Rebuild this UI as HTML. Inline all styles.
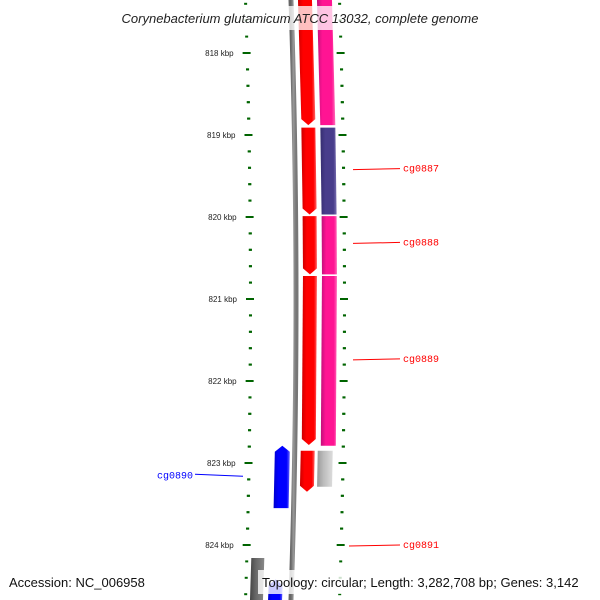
<!DOCTYPE html>
<html><head><meta charset="utf-8"><style>
body{margin:0;background:#fff}
svg{display:block;font-family:"Liberation Sans","DejaVu Sans",sans-serif}
</style></head><body>
<svg id="c" width="600" height="600" viewBox="0 0 600 600">
<defs>
<linearGradient id="gRed" x1="0" x2="1"><stop offset="0" stop-color="#c00"/><stop offset="0.3" stop-color="#f00"/><stop offset="0.8" stop-color="#f00"/><stop offset="1" stop-color="#f66"/></linearGradient>
<linearGradient id="gPink" x1="0" x2="1"><stop offset="0" stop-color="#c0107a"/><stop offset="0.3" stop-color="#ff1493"/><stop offset="0.8" stop-color="#ff1493"/><stop offset="1" stop-color="#ff6ab8"/></linearGradient>
<linearGradient id="gPurp" x1="0" x2="1"><stop offset="0" stop-color="#352d70"/><stop offset="0.3" stop-color="#483d8b"/><stop offset="0.8" stop-color="#483d8b"/><stop offset="1" stop-color="#7a70b0"/></linearGradient>
<linearGradient id="gBlue" x1="0" x2="1"><stop offset="0" stop-color="#00c"/><stop offset="0.3" stop-color="#00f"/><stop offset="0.8" stop-color="#00f"/><stop offset="1" stop-color="#66f"/></linearGradient>
<linearGradient id="gGray" x1="0" x2="1"><stop offset="0" stop-color="#999"/><stop offset="0.4" stop-color="#bbb"/><stop offset="1" stop-color="#ddd"/></linearGradient>
<linearGradient id="gDark" x1="0" x2="1"><stop offset="0" stop-color="#444"/><stop offset="0.4" stop-color="#666"/><stop offset="1" stop-color="#888"/></linearGradient>
<linearGradient id="gBack" x1="0" x2="1"><stop offset="0" stop-color="#666"/><stop offset="0.5" stop-color="#999"/><stop offset="1" stop-color="#777"/></linearGradient>
</defs>
<g id="ticks"></g>
<g id="tracks"></g>
<g id="labels"></g>
<rect x="82" y="6" width="436" height="24" fill="#fff" fill-opacity="0.75"/>
<text x="300" y="23" text-anchor="middle" font-size="13" font-style="italic" fill="#222">Corynebacterium glutamicum ATCC 13032, complete genome</text>
<text x="9" y="587" font-size="13" fill="#111">Accession: NC_006958</text>
<rect x="258" y="570" width="336" height="24" fill="#fff" fill-opacity="0.8"/>
<text x="262" y="587" font-size="13" fill="#111">Topology: circular; Length: 3,282,708 bp; Genes: 3,142</text>
</svg>
<script>
const majorTicks=[818,819,820,821,822,823,824];
const tickLabels=["818 kbp","819 kbp","820 kbp","821 kbp","822 kbp","823 kbp","824 kbp"];
// forward genes (kbp start, end)
const fwdStart=[817.3,818.91,819.99,820.72,822.85];
const fwdEnd=[818.88,819.97,820.70,822.78,823.35];
// blast/COG track blocks
const cogStart=[817.3,818.91,819.99,820.72,822.85];
const cogEnd=[818.88,819.97,820.70,822.79,823.35];
const cogColor=["gPink","gPurp","gPink","gPink","gGray"];
// reverse genes
const revStart=[822.79,823.2];
const revEnd=[823.55,823.9];
const geneNames=["cg0887","cg0888","cg0889","cg0890","cg0891"];
const geneLabelKbp=[819.41,820.31,821.73,823.15,824.0];

const NS="http://www.w3.org/2000/svg";
const y=k=>53+(k-818)*82;
const bend=yy=>-((yy-300)*(yy-300))/(2*9000);
function el(tag,attrs,parent){const e=document.createElementNS(NS,tag);for(const a in attrs)e.setAttribute(a,attrs[a]);parent.appendChild(e);return e;}
const T=document.getElementById('ticks'),K=document.getElementById('tracks'),L=document.getElementById('labels');

// ticks
for(let i=0;i<majorTicks.length;i++){
  for(let s=-5;s<5;s++){
    const k=majorTicks[i]+s/5; const yy=y(k); if(yy<-5||yy>605)continue;
    const major=s===0;
    const xl=250+bend(yy)+((yy-300)*(yy-300)>0?0:0);
    const t1=el('rect',{x:xl-(major?4:1),y:yy-1,width:major?8:3,height:2,fill:'#006400'},T);
    
    
    const xr=344+bend(yy);
    const t2=el('rect',{x:xr-(major?4:1),y:yy-1,width:major?8:3,height:2,fill:'#006400'},T);
    
    
  }
  const tl=el('text',{x:237+bend(y(majorTicks[i])),y:y(majorTicks[i])+3,'font-size':8,'text-anchor':'end',fill:'#222'},L);
  tl.textContent=tickLabels[i];
  
  
}

// backbone
(function(){let d='';for(let yy=-5;yy<=605;yy+=10){d+=(yy<0?'M':'L')+(296+bend(yy))+','+yy;}
const b=el('path',{d:d,stroke:'url(#gBack)',fill:'none','stroke-width':5},K);

})();

function block(y1,y2,x0,w,fill,arrowDown,arrowUp,name){
  const a=6;
  const xa=x0+bend(y1),xb=x0+bend(y2);
  let pts=[];
  if(arrowUp){pts.push([xa,y1+a],[xa+w/2,y1],[xa+w,y1+a]);}else{pts.push([xa,y1],[xa+w,y1]);}
  if(arrowDown){pts.push([xb+w,y2-a],[xb+w/2,y2],[xb,y2-a]);}else{pts.push([xb+w,y2],[xb,y2]);}
  const p=el('polygon',{points:pts.map(q=>q.join(',')).join(' '),fill:fill},K);
  
  
}
for(let i=0;i<fwdStart.length;i++) block(y(fwdStart[i]),y(fwdEnd[i]),303+(i===4?-1:0),14,'url(#gRed)',true,false,'forward-gene');
for(let i=0;i<cogStart.length;i++) block(y(cogStart[i]),y(cogEnd[i])-(i===4?5:0),322-(i===4?3:0),15,'url(#'+cogColor[i]+')',false,false,'cog-block');
block(y(revStart[0]),y(revEnd[0]),276,15,'url(#gBlue)',false,true,'reverse-gene');
block(y(revStart[1])+100,606,273,14,'url(#gBlue)',false,true,'reverse-gene');
block(558,606,255,13,'url(#gDark)',false,false,'reverse-gene-gray');

// gene labels
for(let i=0;i<geneNames.length;i++){
  const yy=y(geneLabelKbp[i]); const left=i===3;
  const col=left?'#00f':'#f00';
  const ln=el('line',left?{x1:195,y1:yy-1,x2:243,y2:yy+1}:{x1:353+(i===4?-4:0),y1:yy+1,x2:400,y2:yy},L);
  ln.setAttribute('stroke',col);ln.setAttribute('stroke-width',1);
  
  
  const t=el('text',{x:left?193:403,y:yy+3,'font-size':10,'text-anchor':left?'end':'start',fill:col,'font-family':'Liberation Mono, monospace'},L);
  t.textContent=geneNames[i];
  
  
}
</script>
</body></html>
